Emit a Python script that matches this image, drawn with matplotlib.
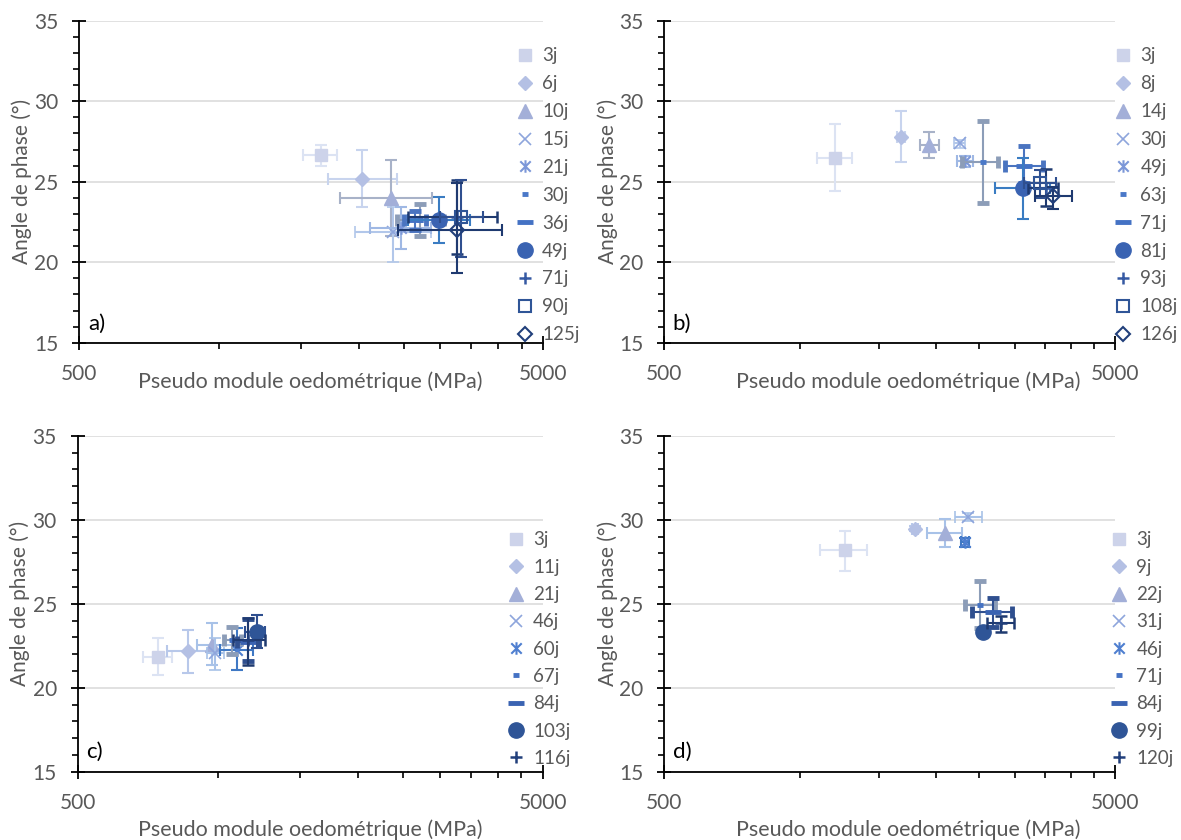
import matplotlib
matplotlib.use("Agg")
import matplotlib.pyplot as plt
import numpy as np
from matplotlib.lines import Line2D
from matplotlib.path import Path
from matplotlib.ticker import NullFormatter

# ---- data (x: MPa, y: degrees) ----
labels_a = ["3j", "6j", "10j", "15j", "21j", "30j", "36j", "49j", "71j", "90j", "125j"]
x_a = [1658, 2031, 2350, 2376, 2465, 2713, 2646, 2986, 3255, 3319, 3254]
y_a = [26.66, 25.2, 23.97, 21.9, 22.1, 22.6, 22.6, 22.62, 22.8, 22.83, 22.0]
xlo_a = [1521, 1722, 1824, 1966, 2117, 2420, 2500, 2560, 2560, 3000, 2436]
xhi_a = [1796, 2415, 2874, 2870, 2870, 3050, 2800, 3483, 3969, 3700, 4069]
ylo_a = [26.0, 23.4, 21.6, 20.0, 20.8, 21.6, 22.0, 21.2, 20.5, 20.3, 19.3]
yhi_a = [27.3, 27.0, 26.35, 23.45, 23.45, 23.6, 23.2, 24.07, 25.1, 25.1, 24.9]

labels_b = ["3j", "8j", "14j", "30j", "49j", "63j", "71j", "81j", "93j", "108j", "126j"]
x_b = [1197, 1674, 1938, 2266, 2325, 2553, 3147, 3121, 3515, 3410, 3650]
y_b = [26.5, 27.8, 27.3, 27.4, 26.3, 26.2, 26.0, 24.6, 24.6, 24.9, 24.1]
xlo_b = [1091, 1640, 1847, 2200, 2230, 2290, 2852, 2710, 3206, 3150, 3324]
xhi_b = [1304, 1710, 2039, 2330, 2420, 2755, 3467, 3595, 3739, 3700, 4009]
ylo_b = [24.4, 26.2, 26.5, 27.1, 25.9, 23.7, 24.9, 22.7, 23.5, 24.0, 23.3]
yhi_b = [28.6, 29.4, 28.1, 27.6, 26.6, 28.8, 27.2, 26.5, 25.8, 25.7, 24.7]

labels_c = ["3j", "11j", "21j", "46j", "60j", "67j", "84j", "103j", "116j"]
x_c = [743, 864, 971, 987, 1099, 1072, 1164, 1213, 1164]
y_c = [21.85, 22.18, 22.54, 22.05, 22.24, 22.84, 22.74, 23.33, 22.84]
xlo_c = [692, 777, 901, 950, 1014, 1030, 1100, 1145, 1081]
xhi_c = [796, 971, 1081, 1030, 1190, 1120, 1230, 1264, 1264]
ylo_c = [20.76, 20.89, 21.35, 21.05, 21.05, 22.0, 21.6, 22.35, 21.35]
yhi_c = [22.94, 23.43, 23.83, 22.94, 23.53, 23.6, 24.1, 24.33, 24.13]

labels_d = ["3j", "9j", "22j", "31j", "46j", "71j", "84j", "99j", "120j"]
x_d = [1260, 1801, 2099, 2364, 2325, 2510, 2686, 2546, 2789]
y_d = [28.2, 29.45, 29.19, 30.14, 28.65, 24.92, 24.52, 23.33, 23.83]
xlo_d = [1110, 1770, 1918, 2209, 2280, 2325, 2414, 2500, 2597]
xhi_d = [1409, 1830, 2286, 2532, 2370, 2710, 2960, 2590, 2985]
ylo_d = [26.96, 29.3, 28.36, 29.9, 28.4, 23.54, 23.63, 23.1, 23.33]
yhi_d = [29.35, 29.6, 30.02, 30.4, 28.9, 26.37, 25.32, 23.5, 24.27]

# ---- styles ----
plt.rcParams["font.family"] = ["Lato", "DejaVu Sans"]
GREY = "#595959"

# excel "star" marker: an x with a vertical bar
star = Path([(-1, -1), (1, 1), (-1, 1), (1, -1), (0, -1.2), (0, 1.2)],
            [Path.MOVETO, Path.LINETO] * 3)

mk11 = [
    dict(marker="s", ms=9),
    dict(marker="D", ms=7.5),
    dict(marker="^", ms=10),
    dict(marker="x", ms=8, mew=1.2),
    dict(marker=star, ms=9, mew=1.5),
    dict(marker="_", ms=5, mew=3.5),
    dict(marker="_", ms=11, mew=3.5),
    dict(marker="o", ms=11),
    dict(marker="+", ms=9, mew=1.8),
    dict(marker="s", ms=9, mfc="none", mew=1.5),
    dict(marker="D", ms=7.5, mfc="none", mew=1.5),
]
mk9 = mk11[:9]

col11 = ["#CDD3EA", "#B4C0E4", "#A3AFD8", "#8EA5DC", "#7C97D8", "#4A78C8",
         "#4472C4", "#3A63B2", "#3559A3", "#2F5597", "#213F7B"]
ecol11 = ["#DCE3F3", "#C8D4EE", "#A8B2C8", "#B2C7EA", "#9FB8E4", "#8C9DB8",
          "#4A74C0", "#3A7CC2", "#1F3A70", "#2F4F8F", "#1F3A70"]
col9 = ["#CDD3EA", "#B4C0E4", "#A3AFD8", "#8EA5DC", "#4F7FD0", "#4472C4",
        "#3A63B2", "#2F5597", "#213F7B"]
ecol9 = ["#DCE3F3", "#B8C8EA", "#A8C2E8", "#A8C2E8", "#3F78C4", "#8C9DB8",
         "#2F4F8F", "#2F4F8F", "#1F3A70"]

fig = plt.figure(figsize=(11.81, 8.4), dpi=100)

panels = [
    ([0.0669, 0.592, 0.3932, 0.3833], "a)", labels_a, x_a, y_a, xlo_a, xhi_a, ylo_a, yhi_a,
     mk11, col11, ecol11, (0.941, 0.917), (0.4975, -0.088), 0.58),
    ([0.5622, 0.592, 0.3819, 0.3833], "b)", labels_b, x_b, y_b, xlo_b, xhi_b, ylo_b, yhi_b,
     mk11, col11, ecol11, (0.998, 0.917), (0.541, -0.088), 0.58),
    ([0.0658, 0.0813, 0.3937, 0.4], "c)", labels_c, x_c, y_c, xlo_c, xhi_c, ylo_c, yhi_c,
     mk9, col9, ecol9, (0.923, 0.715), (0.50, -0.142), 0.55),
    ([0.5622, 0.0813, 0.3819, 0.4], "d)", labels_d, x_d, y_d, xlo_d, xhi_d, ylo_d, yhi_d,
     mk9, col9, ecol9, (0.989, 0.715), (0.541, -0.142), 0.55),
]

for rect, tag, labs, xs, ys, xlo, xhi, ylo, yhi, mks, cols, ecols, leg_at, xlab_at, lsp in panels:
    ax = fig.add_axes(rect)
    xs, ys = np.array(xs, float), np.array(ys, float)
    xerr = [xs - np.array(xlo), np.array(xhi) - xs]
    yerr = [ys - np.array(ylo), np.array(yhi) - ys]
    handles = []
    for i in range(len(labs)):
        m = dict(mks[i])
        mfc = m.pop("mfc", cols[i])
        ax.errorbar(xs[i], ys[i], xerr=[[xerr[0][i]], [xerr[1][i]]],
                    yerr=[[yerr[0][i]], [yerr[1][i]]], linestyle="none",
                    color=cols[i], mfc=mfc, mec=cols[i], ecolor=ecols[i],
                    elinewidth=1.5, capsize=4.5, capthick=1.5, zorder=3 + i, **m)
        handles.append(Line2D([], [], linestyle="none", color=cols[i], mfc=mfc,
                              mec=cols[i], **m))

    ax.set_xscale("log")
    ax.set_xlim(500, 5000)
    ax.set_ylim(15, 35)
    ax.set_xticks([500, 5000], ["500", "5000"])
    ax.set_xticks([1000, 1500, 2000, 2500, 3000, 3500, 4000, 4500], minor=True)
    ax.xaxis.set_minor_formatter(NullFormatter())
    ax.set_yticks([15, 20, 25, 30, 35])
    ax.set_yticks(np.arange(15, 35, 1), minor=True)
    ax.grid(axis="y", which="major", color="#D9D9D9", linewidth=1.1, zorder=0)
    ax.set_axisbelow(True)

    for s in ["top", "right"]:
        ax.spines[s].set_visible(False)
    for s in ["left", "bottom"]:
        ax.spines[s].set_linewidth(1.3)
    ax.tick_params(which="major", direction="inout", length=10, width=1.3,
                   labelsize=15, labelcolor=GREY, pad=10)
    ax.tick_params(which="minor", direction="out", length=4, width=1.2)

    ax.set_xlabel("Pseudo module oedométrique (MPa)", fontsize=15.5, color=GREY)
    ax.xaxis.set_label_coords(*xlab_at)
    ax.set_ylabel("Angle de phase (°)", fontsize=15, color=GREY)
    ax.yaxis.set_label_coords(-0.102, 0.5)

    ax.text(0.019, 0.058, tag, transform=ax.transAxes, fontsize=16,
            ha="left", va="center", color="black")

    leg = ax.legend(handles, labs, loc="upper left", bbox_to_anchor=leg_at,
                    frameon=False, fontsize=13.5, borderpad=0, borderaxespad=0,
                    handlelength=1.0, handletextpad=0.4, labelspacing=lsp)
    for t in leg.get_texts():
        t.set_color(GREY)
    leg.set_zorder(20)

fig.savefig("out.png", dpi=100)
